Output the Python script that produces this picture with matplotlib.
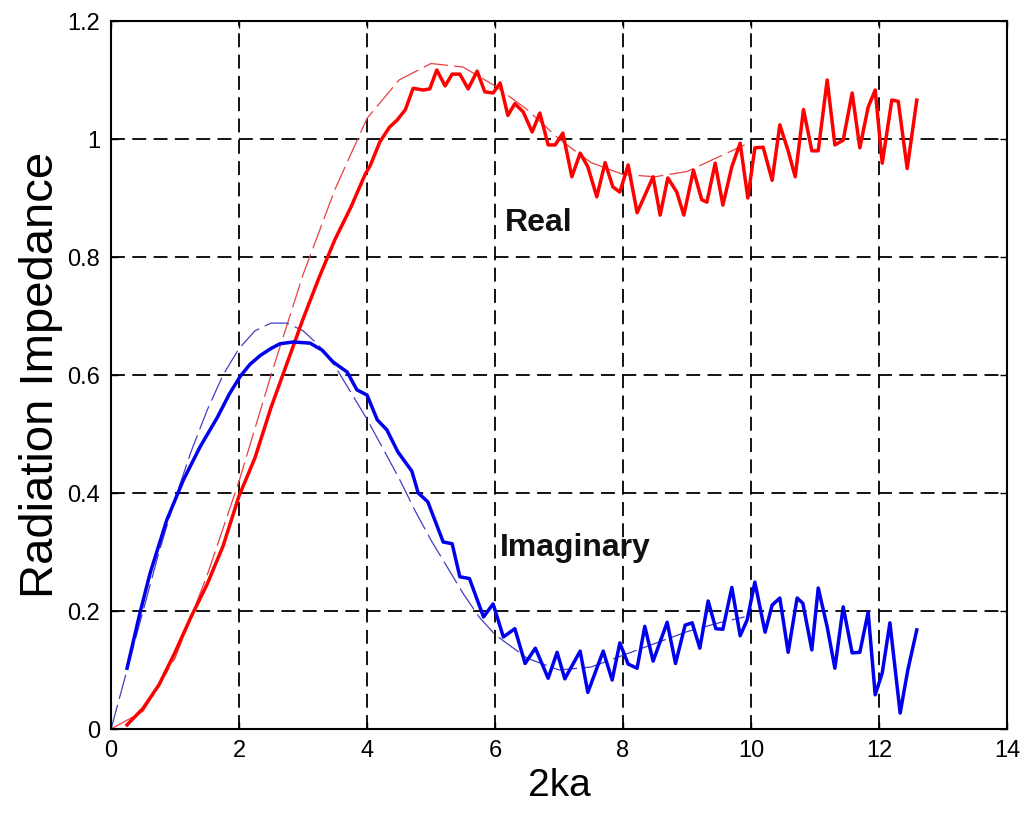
import matplotlib.pyplot as plt
from matplotlib.ticker import FormatStrFormatter

plt.rcParams['font.family'] = ['Liberation Sans', 'DejaVu Sans']

# measured (noisy) real part
real_x = [0.25, 0.5, 0.75, 1.0, 1.25, 1.5, 1.75, 2.0, 2.25, 2.5, 2.75, 3.0, 3.25, 3.5,
          3.75, 3.97, 4.05, 4.2, 4.35, 4.47, 4.6, 4.72, 4.88, 4.98, 5.09, 5.22, 5.33,
          5.45, 5.58, 5.72, 5.84, 5.97, 6.08, 6.2, 6.31, 6.44, 6.58, 6.7, 6.83, 6.94,
          7.06, 7.2, 7.33, 7.45, 7.59, 7.72, 7.84, 7.95, 8.08, 8.22, 8.38, 8.47, 8.58,
          8.7, 8.84, 8.95, 9.1, 9.23, 9.31, 9.44, 9.56, 9.7, 9.83, 9.95, 10.06, 10.19,
          10.33, 10.45, 10.58, 10.69, 10.82, 10.95, 11.05, 11.19, 11.31, 11.44, 11.58,
          11.7, 11.83, 11.94, 12.05, 12.2, 12.3, 12.44, 12.59]
real_y = [0.007, 0.035, 0.075, 0.13, 0.19, 0.245, 0.31, 0.395, 0.46, 0.545, 0.62, 0.695,
          0.765, 0.83, 0.885, 0.94, 0.955, 0.995, 1.02, 1.032, 1.05, 1.086, 1.083, 1.085,
          1.117, 1.09, 1.11, 1.11, 1.085, 1.115, 1.08, 1.078, 1.095, 1.04, 1.06, 1.046,
          1.012, 1.044, 0.99, 0.99, 1.01, 0.936, 0.976, 0.953, 0.902, 0.96, 0.919, 0.91,
          0.956, 0.875, 0.914, 0.936, 0.871, 0.934, 0.91, 0.871, 0.947, 0.897, 0.893,
          0.959, 0.888, 0.953, 0.993, 0.9, 0.985, 0.986, 0.93, 1.024, 0.98, 0.936, 1.05,
          0.98, 0.98, 1.1, 0.99, 0.998, 1.078, 0.985, 1.054, 1.083, 0.959, 1.066, 1.064,
          0.95, 1.066]

# measured (noisy) imaginary part
imag_x = [0.25, 0.45, 0.61, 0.87, 1.13, 1.39, 1.66, 1.85, 2.02, 2.17, 2.33, 2.5, 2.64,
          2.85, 3.11, 3.3, 3.47, 3.69, 3.84, 4.0, 4.16, 4.31, 4.48, 4.7, 4.8, 4.95, 5.19,
          5.33, 5.45, 5.6, 5.82, 5.97, 6.13, 6.31, 6.47, 6.63, 6.83, 6.97, 7.09, 7.33,
          7.45, 7.69, 7.83, 7.95, 8.08, 8.22, 8.34, 8.47, 8.69, 8.82, 8.97, 9.08, 9.2,
          9.33, 9.45, 9.56, 9.7, 9.83, 9.94, 10.06, 10.22, 10.33, 10.45, 10.58, 10.72,
          10.81, 10.95, 11.05, 11.19, 11.31, 11.44, 11.58, 11.7, 11.83, 11.94, 12.05,
          12.17, 12.33, 12.45, 12.59]
imag_y = [0.103, 0.196, 0.264, 0.354, 0.422, 0.478, 0.528, 0.568, 0.598, 0.618, 0.633,
          0.645, 0.653, 0.656, 0.654, 0.642, 0.622, 0.605, 0.575, 0.566, 0.524, 0.507,
          0.47, 0.437, 0.4, 0.385, 0.317, 0.314, 0.258, 0.255, 0.19, 0.212, 0.156, 0.17,
          0.111, 0.137, 0.086, 0.13, 0.085, 0.132, 0.062, 0.132, 0.083, 0.146, 0.11,
          0.103, 0.174, 0.115, 0.181, 0.111, 0.176, 0.18, 0.137, 0.217, 0.17, 0.169,
          0.24, 0.158, 0.185, 0.249, 0.164, 0.21, 0.222, 0.13, 0.222, 0.213, 0.134,
          0.239, 0.173, 0.103, 0.207, 0.129, 0.13, 0.198, 0.058, 0.095, 0.18, 0.027,
          0.1, 0.168]

# theoretical curves (thin dashed)
real_th_x = [0, 0.5, 1, 1.5, 2, 2.5, 3, 3.5, 4, 4.5, 5, 5.5, 6, 6.5, 7, 7.5, 8, 8.5, 9,
             9.5, 9.9]
real_th_y = [0, 0.03, 0.12, 0.26, 0.42, 0.6, 0.77, 0.915, 1.035, 1.1, 1.128, 1.122, 1.09,
             1.05, 1.0, 0.96, 0.94, 0.936, 0.945, 0.97, 0.99]
imag_th_x = [0, 0.25, 0.5, 0.75, 1, 1.25, 1.5, 1.75, 2, 2.25, 2.5, 2.75, 3, 3.25, 3.5,
             3.75, 4, 4.25, 4.5, 4.75, 5, 5.25, 5.5, 5.75, 6, 6.5, 7, 7.5, 8, 8.5, 9,
             9.5, 9.9]
imag_th_y = [0, 0.1, 0.2, 0.3, 0.39, 0.47, 0.54, 0.6, 0.645, 0.675, 0.688, 0.688, 0.675,
             0.65, 0.615, 0.57, 0.525, 0.475, 0.425, 0.37, 0.32, 0.275, 0.23, 0.19, 0.16,
             0.12, 0.1, 0.105, 0.125, 0.145, 0.165, 0.18, 0.19]

fig = plt.figure(figsize=(10.32, 8.18), dpi=100)
ax = fig.add_axes([0.1076, 0.1088, 0.8682, 0.8655])

ax.plot(real_th_x, real_th_y, color='#e84040', lw=0.9, dashes=(20, 5))
ax.plot(imag_th_x, imag_th_y, color='#4040c0', lw=0.9, dashes=(20, 5))
ax.plot(real_x, real_y, color='#ff0000', lw=2.5)
ax.plot(imag_x, imag_y, color='#0000ee', lw=2.5)

ax.text(6.16, 0.857, 'Real', fontsize=23, fontweight='bold', va='center', ha='left',
        color='#111111')
ax.text(6.08, 0.307, 'Imaginary', fontsize=23, fontweight='bold', va='center',
        ha='left', color='#111111')

ax.set_xlim(0, 14)
ax.set_ylim(0, 1.2)
ax.set_xticks(range(0, 15, 2))
ax.set_yticks([0, 0.2, 0.4, 0.6, 0.8, 1.0, 1.2])
ax.yaxis.set_major_formatter(FormatStrFormatter('%g'))
ax.tick_params(direction='in', length=5, width=1, labelsize=17, top=True, right=True,
               pad=8)
ax.grid(True, color='k', linewidth=1.3, linestyle=(0, (7.7, 4.1)))
for s in ax.spines.values():
    s.set_linewidth(1.5)

ax.set_xlabel('2ka', fontsize=28, labelpad=4)
ax.set_ylabel('Radiation Impedance', fontsize=34, labelpad=3)

fig.savefig('out.png', dpi=100)
